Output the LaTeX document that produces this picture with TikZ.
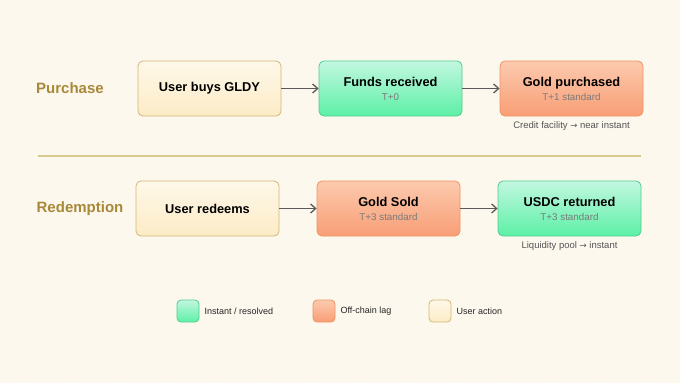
\documentclass[tikz,border=0pt]{standalone}
\usepackage{fontspec}
\setmainfont{Liberation Sans}
\newfontfamily\symfont{DejaVu Sans}
\usetikzlibrary{arrows.meta,shadings}
\definecolor{bg}{HTML}{FDF8EE}
\definecolor{dotc}{HTML}{F1EADA}
\definecolor{grtop}{HTML}{C2F7E0}
\definecolor{grbot}{HTML}{5CF0A6}
\definecolor{grbd}{HTML}{52CC8E}
\definecolor{ortop}{HTML}{FCCAAE}
\definecolor{orbot}{HTML}{F89E76}
\definecolor{orbd}{HTML}{EE9462}
\definecolor{crtop}{HTML}{FEF8EA}
\definecolor{crbot}{HTML}{FCEBC6}
\definecolor{crbd}{HTML}{D2B774}
\definecolor{lblc}{HTML}{A8893A}
\definecolor{divc}{HTML}{D8C98E}
\definecolor{subc}{HTML}{7A7A7A}
\definecolor{notec}{HTML}{555555}
\definecolor{arrc}{HTML}{5A5A5A}
\tikzset{
  flowbox/.style={rounded corners=5pt, minimum width=143pt, minimum height=55pt, line width=0.8pt, align=center, inner sep=0pt},
  greenbox/.style={flowbox, draw=grbd, top color=grtop, bottom color=grbot},
  orangebox/.style={flowbox, draw=orbd, top color=ortop, bottom color=orbot},
  creambox/.style={flowbox, draw=crbd, top color=crtop, bottom color=crbot},
  swatch/.style={rounded corners=4pt, minimum width=22pt, minimum height=22pt, line width=0.8pt, inner sep=0pt},
  rowlbl/.style={font=\fontsize{15}{18}\selectfont\bfseries, text=lblc},
  flowarrow/.style={draw=arrc, line width=1.3pt, -{Straight Barb[length=5pt,width=9pt,line width=1.3pt]}},
  note/.style={font=\fontsize{9.5}{11}\selectfont, text=notec},
  legtext/.style={font=\fontsize{9}{11}\selectfont, text=black!85, anchor=west}
}
\newcommand{\bt}[1]{{\fontsize{12.8}{15}\selectfont\bfseries #1}}
\newcommand{\st}[1]{{\fontsize{9.8}{12}\selectfont\color{subc} #1}}
\newcommand{\rarr}{{\symfont\fontsize{8.5}{10}\selectfont →}}
\begin{document}
\begin{tikzpicture}[x=1pt,y=-1pt]
\fill[bg] (0,0) rectangle (680,383);
\useasboundingbox (0,0) rectangle (680,383);
\foreach \i in {0,...,56}{\foreach \j in {0,...,31}{\fill[dotc] (6+12*\i,6+12*\j) circle (0.7pt);}}
% row labels
\node[rowlbl] (lp) at (70,88.5) {Purchase};
\node[rowlbl] (lr) at (80,208.5) {Redemption};
% purchase row
\node[creambox] (p1) at (209.5,88.5) {\bt{User buys GLDY}};
\node[greenbox] (p2) at (390.5,88.5) {\bt{Funds received}\\[2pt]\st{T+0}};
\node[orangebox] (p3) at (571.5,88.5) {\bt{Gold purchased}\\[2pt]\st{T+1 standard}};
\node[note] (n1) at (571.5,126) {Credit facility \rarr{} near instant};
\draw[flowarrow] (p1) -- (p2);
\draw[flowarrow] (p2) -- (p3);
% divider
\coordinate (d1) at (38,156);
\coordinate (d2) at (641,156);
\draw[divc, line width=1.2pt] (d1) -- (d2);
% redemption row
\node[creambox] (r1) at (207.5,208.5) {\bt{User redeems}};
\node[orangebox] (r2) at (388.5,208.5) {\bt{Gold Sold}\\[2pt]\st{T+3 standard}};
\node[greenbox] (r3) at (569.5,208.5) {\bt{USDC returned}\\[2pt]\st{T+3 standard}};
\node[note] (n2) at (569.5,246) {Liquidity pool \rarr{} instant};
\draw[flowarrow] (r1) -- (r2);
\draw[flowarrow] (r2) -- (r3);
% legend
\node[swatch, draw=grbd, top color=grtop, bottom color=grbot] (s1) at (188,311) {};
\node[legtext] (t1) at (201,311) {Instant / resolved};
\node[swatch, draw=orbd, top color=ortop, bottom color=orbot] (s2) at (324,311) {};
\node[legtext] (t2) at (337,311) {Off-chain lag};
\node[swatch, draw=crbd, top color=crtop, bottom color=crbot] (s3) at (440,311) {};
\node[legtext] (t3) at (453,311) {User action};
\end{tikzpicture}
\end{document}
